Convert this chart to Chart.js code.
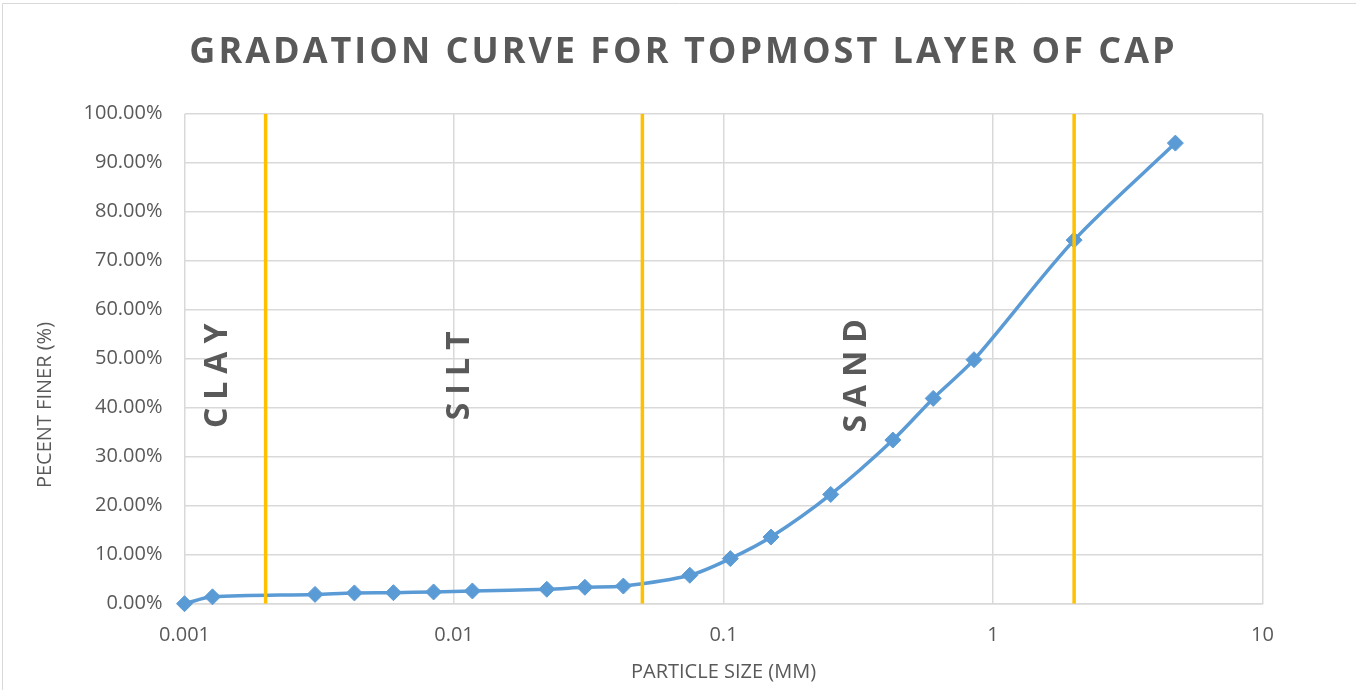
<!DOCTYPE html>
<html>
<head>
<meta charset="utf-8">
<title>Gradation Curve</title>
<script src="https://cdn.jsdelivr.net/npm/chart.js@4.4.1/dist/chart.umd.min.js"></script>
<style>
  html, body { margin: 0; padding: 0; background: #fff; }
  #wrap { position: relative; width: 1356px; height: 690px; }
</style>
</head>
<body>
<div id="wrap"><canvas id="gradationChart" width="1356" height="690"></canvas></div>
<script>
// sieve / hydrometer results
const particleSizes = [0.001, 0.00127, 0.00305, 0.00427, 0.00596, 0.0084, 0.0117, 0.0221, 0.0306, 0.0425,
  0.075, 0.106, 0.15, 0.25, 0.425, 0.6, 0.85, 2.0, 4.75];
const percentFiner = [0, 1.4, 1.9, 2.2, 2.25, 2.4, 2.6, 2.95, 3.35, 3.6,
  5.8, 9.2, 13.6, 22.3, 33.4, 41.9, 49.8, 74.2, 94.0];

// soil class boundaries (mm) and the zone labels
const zoneBoundaries = [0.002, 0.05, 2.0];
const zoneNames = ["CLAY", "SILT", "SAND"];
const zoneLabelX = [0.00133, 0.0105, 0.313];
const zoneLabelY = 46.5;

const xTickValues = [0.001, 0.01, 0.1, 1, 10];
const yTickStep = 10;

const chartTitle = "GRADATION CURVE FOR TOPMOST LAYER OF CAP";
const xAxisTitle = "PARTICLE SIZE (MM)";
const yAxisTitle = "PECENT FINER (%)";

const textColor = "#595959";
const gridColor = "#d9d9d9";

// title, y title, zone labels and outer border
const annotationPlugin = {
  id: "annotations",
  beforeDraw(chart) {
    const ctx = chart.ctx;
    ctx.save();
    ctx.strokeStyle = gridColor;
    ctx.lineWidth = 1;
    ctx.beginPath();
    ctx.moveTo(2.5, chart.height);
    ctx.lineTo(2.5, 3.5);
    ctx.lineTo(chart.width, 3.5);
    ctx.stroke();
    ctx.restore();
  },
  afterDatasetsDraw(chart) {
    const ctx = chart.ctx;
    const { x, y } = chart.scales;

    ctx.save();
    ctx.fillStyle = textColor;
    ctx.textAlign = "center";
    ctx.textBaseline = "middle";

    // chart title
    ctx.font = "bold 36px 'Open Sans'";
    ctx.letterSpacing = "3px";
    ctx.fillText(chartTitle, 682 + 1.5, 53);

    // zone labels, rotated
    ctx.font = "bold 32px 'Open Sans'";
    ctx.letterSpacing = "8px";
    zoneNames.forEach((name, i) => {
      ctx.save();
      ctx.translate(x.getPixelForValue(zoneLabelX[i]), y.getPixelForValue(zoneLabelY));
      ctx.rotate(-Math.PI / 2);
      ctx.fillText(name, 4, 0);
      ctx.restore();
    });

    // y axis title
    ctx.font = "20px 'Open Sans'";
    ctx.letterSpacing = "0px";
    ctx.save();
    ctx.translate(45, 405);
    ctx.rotate(-Math.PI / 2);
    ctx.fillText(yAxisTitle, 0, 0);
    ctx.restore();

    ctx.restore();
  },
};

const boundaryDatasets = zoneBoundaries.map((b) => ({
  data: [{ x: b, y: 0 }, { x: b, y: 100 }],
  borderColor: "#FFC000",
  borderWidth: 3.5,
  pointRadius: 0,
  tension: 0,
}));

const curveDataset = {
  label: "Percent finer",
  data: particleSizes.map((size, i) => ({ x: size, y: percentFiner[i] })),
  borderColor: "#5B9BD5",
  backgroundColor: "#5B9BD5",
  borderWidth: 3.5,
  pointStyle: "rectRot",
  pointRadius: 8,
  pointBorderWidth: 1,
  tension: 0.3,
  clip: false,
};

const ctx = document.getElementById("gradationChart").getContext("2d");
const gradationChart = new Chart(ctx, {
  type: "line",
  data: { datasets: [...boundaryDatasets, curveDataset] },
  plugins: [annotationPlugin],
  options: {
    responsive: false,
    animation: false,
    layout: { padding: { left: 0, right: 93.5, top: 113.7, bottom: 0 } },
    plugins: {
      legend: { display: false },
      tooltip: { enabled: false },
    },
    scales: {
      x: {
        type: "logarithmic",
        min: 0.001,
        max: 10,
        afterBuildTicks: (scale) => {
          scale.ticks = xTickValues.map((v) => ({ value: v }));
        },
        afterFit: (scale) => {
          scale.height = 86.3;
        },
        grid: { color: gridColor, lineWidth: 1.5, drawTicks: false },
        border: { color: gridColor, width: 1.5 },
        ticks: {
          color: textColor,
          font: { family: "'Open Sans'", size: 20 },
          padding: 20,
          maxRotation: 0,
          autoSkip: false,
          callback: (value) => String(value),
        },
        title: {
          display: true,
          text: xAxisTitle,
          color: textColor,
          font: { family: "'Open Sans'", size: 20 },
          padding: { top: 0, bottom: 5.5 },
        },
      },
      y: {
        min: 0,
        max: 100,
        afterFit: (scale) => {
          scale.width = 184.5;
        },
        grid: { color: gridColor, lineWidth: 1.5, drawTicks: false },
        border: { display: false },
        ticks: {
          stepSize: yTickStep,
          color: textColor,
          font: { family: "'Open Sans'", size: 20 },
          padding: 22,
          callback: (value) => value.toFixed(2) + "%",
        },
      },
    },
  },
});
</script>
</body>
</html>
